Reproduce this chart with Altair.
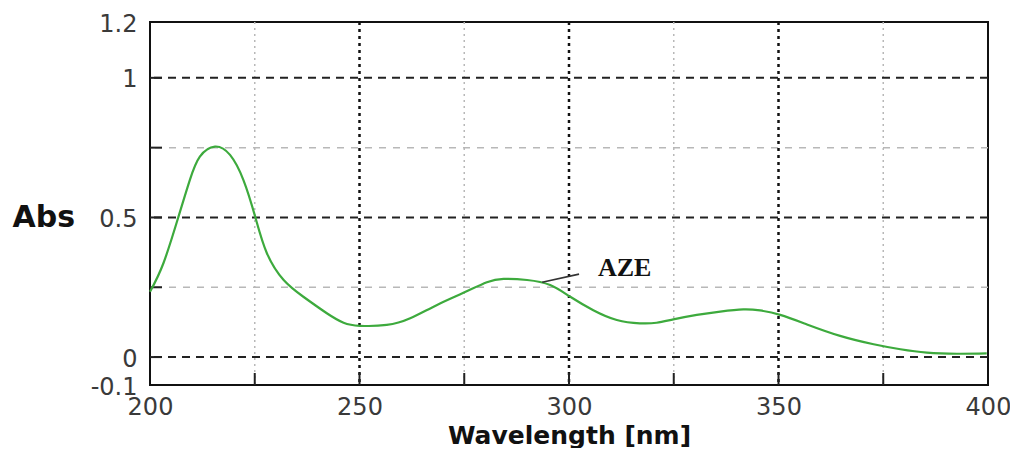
import altair as alt
import pandas as pd

# Spectrum
wavelength = [200, 203.2, 206.8, 209.5, 211.9, 215.5, 219.1, 222.3, 225.1, 227.9,
              231.9, 236.6, 242.2, 246.2, 250.1, 256.5, 262.1, 268.4, 274.8, 280.4,
              284.4, 290.0, 295.5, 300.3, 305.8, 311.4, 316.9, 320.9, 324.9, 330.5,
              336.1, 341.6, 345.6, 350.4, 356.8, 364.7, 372.7, 379.1, 385.4, 392.6, 399.7]
absorbance = [0.234, 0.336, 0.503, 0.634, 0.718, 0.754, 0.724, 0.634, 0.503, 0.372,
              0.276, 0.216, 0.157, 0.123, 0.112, 0.115, 0.139, 0.186, 0.230, 0.268,
              0.280, 0.276, 0.258, 0.216, 0.168, 0.133, 0.121, 0.123, 0.135, 0.151,
              0.163, 0.171, 0.167, 0.151, 0.117, 0.076, 0.046, 0.028, 0.016, 0.012, 0.013]

x_ticks = [200, 250, 300, 350, 400]
y_ticks = [-0.1, 0, 0.5, 1, 1.2]
x_major_grid = [250, 300, 350]
x_minor_grid = [225, 275, 325, 375]
y_major_grid = [0, 0.5, 1]
y_minor_grid = [0.25, 0.75]

label_text = ["AZE"]
label_x = [306.9]
label_y = [0.319]
leader_x = [293.6]
leader_y = [0.268]
leader_x2 = [302.4]
leader_y2 = [0.297]

X_DOMAIN = [200, 400]
Y_DOMAIN = [-0.1, 1.2]

xs = alt.Scale(domain=X_DOMAIN, nice=False, zero=False)
ys = alt.Scale(domain=Y_DOMAIN, nice=False, zero=False)

spec_df = pd.DataFrame({"wl": wavelength, "abs": absorbance})

x_axis = alt.Axis(values=x_ticks, grid=False, ticks=False, domain=False,
                  labelFont="DejaVu Sans", labelFontSize=24, labelColor="#3a3a3a",
                  labelPadding=10, labelOverlap=False, labelFlush=False,
                  title="Wavelength [nm]", titleFont="DejaVu Sans", titleFontWeight="bold",
                  titleFontSize=25, titleColor="#111111", titleBaseline="middle", titleY=50)
y_axis = alt.Axis(values=y_ticks, format="~g", grid=False, ticks=False, domain=False,
                  labelExpr="replace(datum.label, '\u2212', '-')",
                  labelFont="DejaVu Sans", labelFontSize=24, labelColor="#3a3a3a",
                  labelPadding=13, labelOverlap=False, labelFlush=False, labelOffset=2,
                  title="Abs", titleFont="DejaVu Sans", titleFontWeight="bold",
                  titleFontSize=30, titleColor="#111111", titleAngle=0,
                  titleAlign="left", titleBaseline="middle", titleX=-138, titleY=195)


def X(field):
    return alt.X(field, scale=xs, axis=x_axis, title="Wavelength [nm]")


def Y(field):
    return alt.Y(field, scale=ys, axis=y_axis, title="Abs")


vminor = alt.Chart(pd.DataFrame({"v": x_minor_grid})).mark_rule(
    color="#b8b8b8", strokeWidth=1.5, strokeDash=[2, 4]).encode(x=X("v:Q"))
hminor = alt.Chart(pd.DataFrame({"v": y_minor_grid})).mark_rule(
    color="#b8b8b8", strokeWidth=1.5, strokeDash=[7, 7]).encode(y=Y("v:Q"))
vmajor = alt.Chart(pd.DataFrame({"v": x_major_grid})).mark_rule(
    color="#111111", strokeWidth=2.5, strokeDash=[3, 4]).encode(x=X("v:Q"))
hmajor = alt.Chart(pd.DataFrame({"v": y_major_grid})).mark_rule(
    color="#222222", strokeWidth=2, strokeDash=[8, 6]).encode(y=Y("v:Q"))

ytick_df = pd.DataFrame({"v": y_major_grid + y_minor_grid})
yticks = alt.Chart(ytick_df).mark_rule(color="#222222", strokeWidth=2).encode(
    y=Y("v:Q"), x=alt.value(0), x2=alt.value(12))
xtick_df = pd.DataFrame({"v": x_major_grid + x_minor_grid})
xticks = alt.Chart(xtick_df).mark_rule(color="#222222", strokeWidth=2).encode(
    x=X("v:Q"), y=alt.value(363), y2=alt.value(351))

line = alt.Chart(spec_df).mark_line(color="#3daa3d", strokeWidth=2.2,
                                    interpolate="natural").encode(
    x=X("wl:Q"), y=Y("abs:Q"))

leader = alt.Chart(pd.DataFrame({"x": leader_x, "y": leader_y,
                                 "x2": leader_x2, "y2": leader_y2})).mark_rule(
    color="#333333", strokeWidth=1.6).encode(
    x=X("x:Q"), y=Y("y:Q"), x2="x2:Q", y2="y2:Q")
label = alt.Chart(pd.DataFrame({"t": label_text, "x": label_x, "y": label_y})).mark_text(
    font="Liberation Serif", fontWeight="bold", fontSize=26, align="left",
    baseline="middle", color="#111111").encode(
    x=X("x:Q"), y=Y("y:Q"), text="t:N")

chart = alt.layer(vminor, hminor, vmajor, hmajor, yticks, xticks, line, leader, label).properties(
    width=838, height=363,
    autosize=alt.AutoSizeParams(type="none"),
    padding={"left": 142, "top": 14, "right": 22, "bottom": 63},
    background="white",
).configure_view(stroke="#111111", strokeWidth=2)

chart.save("out.html", embed_options={"renderer": "svg", "actions": False})
